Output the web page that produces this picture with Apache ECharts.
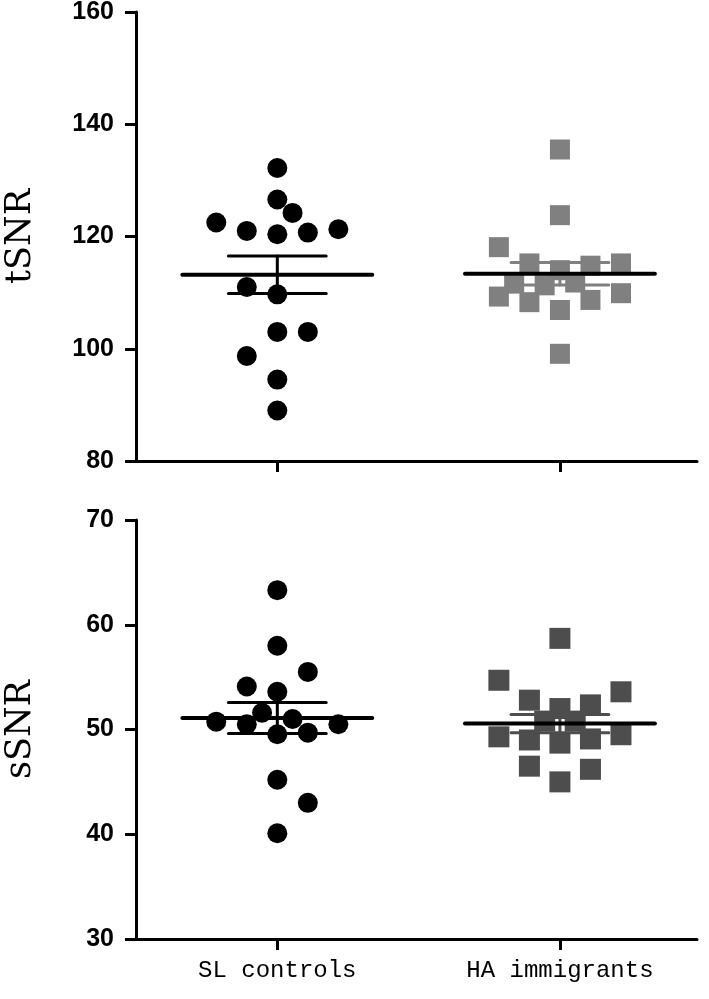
<!DOCTYPE html>
<html>
<head>
<meta charset="utf-8">
<script src="https://cdn.jsdelivr.net/npm/echarts@6/dist/echarts.min.js"></script>
<style>
  html, body { margin: 0; background: #fff; }
  #chart { width: 709px; height: 999px; }
</style>
</head>
<body>
<div id="chart"></div>
<script>
// groups on the x axis (placed at x = 1 and x = 2)
const groups = ["SL controls", "HA immigrants"];

// tSNR (top panel)
const tsnrSL = [132.2, 126.6, 124.2, 122.5, 121.0, 120.4, 120.7, 121.3, 111.0, 109.7, 103.0, 103.0, 98.7, 94.5, 89.0];
const tsnrHA = [135.5, 123.8, 118.1, 115.2, 114.0, 114.8, 115.2, 109.3, 108.3, 106.9, 108.7, 109.9, 99.1, 111.6, 111.3, 111.8];
// column slot of every dot, counted in dot widths from the column centre
const tsnrSLSlot = [0, 0, 0.5, -2, -1, 0, 1, 2, -1, 0, 0, 1, -1, 0, 0];
const tsnrHASlot = [0, 0, -2, -1, 0, 1, 2, -2, -1, 0, 1, 2, 0, -1.5, -0.5, 0.5];

// sSNR (bottom panel)
const ssnrSL = [63.3, 58.0, 55.5, 54.1, 53.6, 51.6, 50.75, 50.5, 51.0, 50.5, 49.55, 49.7, 45.2, 43.0, 40.1];
const ssnrHA = [58.7, 54.7, 53.6, 52.8, 52.0, 52.35, 50.8, 50.8, 49.3, 49.0, 48.7, 49.1, 49.5, 46.5, 46.2, 45.0];
const ssnrSLSlot = [0, 0, 1, -1, 0, -0.5, -2, -1, 0.5, 2, 0, 1, 0, 1, 0];
const ssnrHASlot = [0, -2, 2, -1, 0, 1, -0.5, 0.5, -2, -1, 0, 1, 2, -1, 1, 0];

// y axis ticks
const tsnrTicks = [80, 100, 120, 140, 160];
const ssnrTicks = [30, 40, 50, 60, 70];

const SLOT = 0.108;       // one dot width in x units
const MEAN_HALF = 0.336;  // half length of the mean line
const SEM_HALF = 0.173;   // half length of the SEM caps

function stats(arr) {
  const n = arr.length;
  const m = arr.reduce((a, b) => a + b, 0) / n;
  const sd = Math.sqrt(arr.reduce((a, b) => a + (b - m) * (b - m), 0) / (n - 1));
  return [m, sd / Math.sqrt(n)];
}

function points(center, vals, slots) {
  return vals.map((v, i) => [center + slots[i] * SLOT, v]);
}

function meanSem(colors) {
  return function (params, api) {
    const x = api.value(0), m = api.value(1), s = api.value(2);
    const p = (dx, y) => api.coord([x + dx, y]);
    const col = colors[params.dataIndex];
    const ln = (a, b, c, w) => ({
      type: "line",
      shape: { x1: a[0], y1: a[1], x2: b[0], y2: b[1] },
      style: { stroke: c, lineWidth: w, lineCap: "round" }
    });
    return {
      type: "group",
      children: [
        ln(p(-SEM_HALF, m + s), p(SEM_HALF, m + s), col, 3),
        ln(p(-SEM_HALF, m - s), p(SEM_HALF, m - s), col, 3),
        ln(p(0, m + s), p(0, m - s), col, 3),
        ln(p(-MEAN_HALF, m), p(MEAN_HALF, m), "#000", 4)
      ]
    };
  };
}

function yAxis(gi, ticks, name) {
  return {
    type: "value",
    gridIndex: gi,
    min: ticks[0],
    max: ticks[ticks.length - 1],
    interval: ticks[1] - ticks[0],
    name: name,
    nameLocation: "middle",
    nameRotate: 90,
    nameGap: 98,
    nameTextStyle: { fontFamily: "DejaVu Serif", fontSize: 35, color: "#000" },
    axisLine: { show: true, lineStyle: { color: "#000", width: 3 } },
    axisTick: { show: true, length: 11, lineStyle: { color: "#000", width: 3 } },
    axisLabel: { margin: 22, fontFamily: "Liberation Sans", fontWeight: "bold", fontSize: 25, color: "#000" },
    splitLine: { show: false }
  };
}

function xAxis(gi, showLabel) {
  return {
    type: "value",
    gridIndex: gi,
    min: 0.5,
    max: 2.485,
    axisLine: { show: true, onZero: false, lineStyle: { color: "#000", width: 3 } },
    axisTick: { show: true, customValues: [1, 2], length: 11, lineStyle: { color: "#000", width: 3 } },
    axisLabel: {
      show: showLabel,
      customValues: [1, 2],
      margin: 20,
      formatter: v => groups[Math.round(v) - 1],
      fontFamily: "Liberation Mono",
      fontSize: 24,
      color: "#000"
    },
    splitLine: { show: false }
  };
}

const tSL = stats(tsnrSL), tHA = stats(tsnrHA);
const sSL = stats(ssnrSL), sHA = stats(ssnrHA);

const chart = echarts.init(document.getElementById("chart"));
chart.setOption({
  animation: false,
  backgroundColor: "#fff",
  grid: [
    { left: 136, right: 12, top: 12, height: 449, outerBoundsMode: "none" },
    { left: 136, right: 12, top: 520, height: 419, outerBoundsMode: "none" }
  ],
  xAxis: [xAxis(0, false), xAxis(1, true)],
  yAxis: [yAxis(0, tsnrTicks, "tSNR"), yAxis(1, ssnrTicks, "sSNR")],
  series: [
    {
      type: "scatter", xAxisIndex: 0, yAxisIndex: 0,
      symbol: "circle", symbolSize: 20,
      itemStyle: { color: "#000", opacity: 1 },
      data: points(1, tsnrSL, tsnrSLSlot)
    },
    {
      type: "scatter", xAxisIndex: 0, yAxisIndex: 0,
      symbol: "rect", symbolSize: 20,
      itemStyle: { color: "#808080", opacity: 1 },
      data: points(2, tsnrHA, tsnrHASlot)
    },
    {
      type: "custom", xAxisIndex: 0, yAxisIndex: 0, z: 5, clip: false,
      renderItem: meanSem(["#000", "#808080"]),
      data: [[1, tSL[0], tSL[1]], [2, tHA[0], tHA[1]]]
    },
    {
      type: "scatter", xAxisIndex: 1, yAxisIndex: 1,
      symbol: "circle", symbolSize: 20,
      itemStyle: { color: "#000", opacity: 1 },
      data: points(1, ssnrSL, ssnrSLSlot)
    },
    {
      type: "scatter", xAxisIndex: 1, yAxisIndex: 1,
      symbol: "rect", symbolSize: 21,
      itemStyle: { color: "#4d4d4d", opacity: 1 },
      data: points(2, ssnrHA, ssnrHASlot)
    },
    {
      type: "custom", xAxisIndex: 1, yAxisIndex: 1, z: 5, clip: false,
      renderItem: meanSem(["#000", "#4d4d4d"]),
      data: [[1, sSL[0], sSL[1]], [2, sHA[0], sHA[1]]]
    }
  ]
});
</script>
</body>
</html>
